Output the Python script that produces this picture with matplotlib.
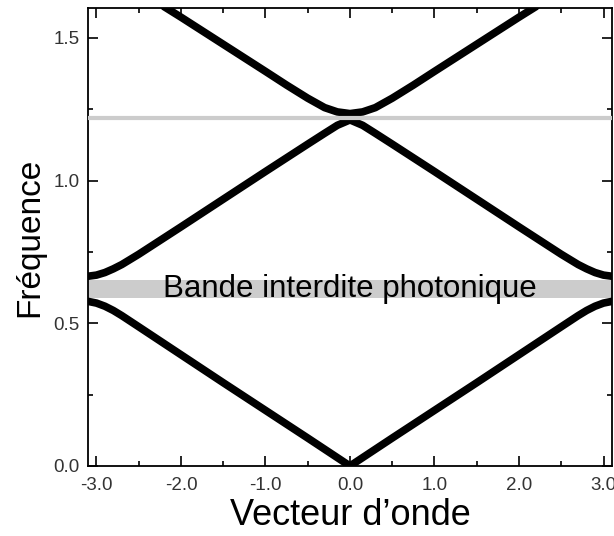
import matplotlib
matplotlib.use('Agg')
import matplotlib.pyplot as plt
from matplotlib.ticker import MultipleLocator

plt.rcParams['font.family'] = ['Liberation Sans', 'DejaVu Sans']
plt.rcParams['axes.unicode_minus'] = False

# band structure (wave vector, frequency)
k_band1 = [-3.1, -3.0, -2.9, -2.8, -2.7, -2.5, -2.0, -1.5, -1.0, -0.5, 0.0,
           0.5, 1.0, 1.5, 2.0, 2.5, 2.7, 2.8, 2.9, 3.0, 3.1]
f_band1 = [0.577, 0.571, 0.560, 0.545, 0.527, 0.488, 0.390, 0.292, 0.195, 0.098, 0.0,
           0.098, 0.195, 0.292, 0.390, 0.488, 0.527, 0.545, 0.560, 0.571, 0.577]

k_band2 = [-3.1, -3.0, -2.9, -2.8, -2.7, -2.5, -2.0, -1.5, -1.0, -0.5, -0.3, -0.15, 0.0,
           0.15, 0.3, 0.5, 1.0, 1.5, 2.0, 2.5, 2.7, 2.8, 2.9, 3.0, 3.1]
f_band2 = [0.665, 0.669, 0.678, 0.691, 0.706, 0.742, 0.838, 0.935, 1.032, 1.128, 1.166, 1.194, 1.213,
           1.194, 1.166, 1.128, 1.032, 0.935, 0.838, 0.742, 0.706, 0.691, 0.678, 0.669, 0.665]

k_band3 = [-2.2, -2.0, -1.5, -1.0, -0.75, -0.5, -0.3, -0.15, 0.0,
           0.15, 0.3, 0.5, 0.75, 1.0, 1.5, 2.0, 2.2]
f_band3 = [1.610, 1.573, 1.478, 1.383, 1.335, 1.289, 1.256, 1.241, 1.235,
           1.241, 1.256, 1.289, 1.335, 1.383, 1.478, 1.573, 1.610]

gap_low, gap_high = 0.589, 0.652
gap2_freq = 1.219
gap_text = 'Bande interdite photonique'

fig = plt.figure(figsize=(6.14, 5.36), dpi=100)
ax = fig.add_axes([0.1433, 0.1306, 0.8534, 0.8544])

ax.axhspan(gap_low, gap_high, color='#cccccc', lw=0, zorder=1)
for k, f in [(k_band1, f_band1), (k_band2, f_band2), (k_band3, f_band3)]:
    ax.plot(k, f, color='black', lw=5.5, solid_capstyle='round',
            solid_joinstyle='round', zorder=2)
ax.axhline(gap2_freq, color='#cccccc', lw=3, zorder=3)
ax.text(0.0, (gap_low + gap_high) / 2, gap_text, ha='center', va='center',
        fontsize=22.5, color='black', zorder=4)

ax.set_xlim(-3.1, 3.1)
ax.set_ylim(0, 1.605)
ax.xaxis.set_major_locator(MultipleLocator(1.0))
ax.xaxis.set_minor_locator(MultipleLocator(0.5))
ax.yaxis.set_major_locator(MultipleLocator(0.5))
ax.yaxis.set_minor_locator(MultipleLocator(0.25))
ax.xaxis.set_major_formatter('{x:.1f}')
ax.yaxis.set_major_formatter('{x:.1f}')
ax.tick_params(which='both', direction='in', top=True, right=True,
               labelsize=13.5, labelcolor='#333333', width=1.2)
ax.tick_params(which='major', length=7)
ax.tick_params(axis='x', which='major', pad=8)
ax.tick_params(axis='y', which='major', pad=6)
ax.tick_params(which='minor', length=3.5)
for s in ax.spines.values():
    s.set_linewidth(1.3)

ax.set_xlabel('Vecteur d\u2019onde', fontsize=26, labelpad=3)
ax.set_ylabel('Fréquence', fontsize=24, labelpad=6)

fig.savefig('out.png', dpi=100)
